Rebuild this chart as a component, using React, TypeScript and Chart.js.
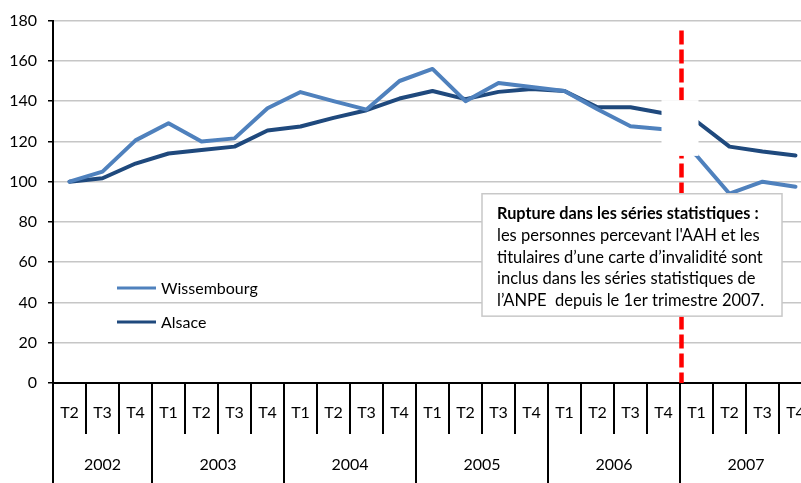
import React, { useEffect, useRef } from "react";
import { Chart, registerables } from "chart.js";

Chart.register(...registerables);

const quarters = [
  "T2", "T3", "T4",
  "T1", "T2", "T3", "T4",
  "T1", "T2", "T3", "T4",
  "T1", "T2", "T3", "T4",
  "T1", "T2", "T3", "T4",
  "T1", "T2", "T3", "T4",
];
const years = ["2002", "2003", "2004", "2005", "2006", "2007"];
const yearSpans = [3, 4, 4, 4, 4, 4];

const wissembourg = [
  100, 105, 120.5, 129, 120, 121.5, 136.5, 144.5, 140, 135.8, 150, 156, 140,
  149, 147, 145, 136, 127.5, 126, 113, 94, 100, 97.5,
];
const alsace = [
  100, 101.7, 109, 114, 115.7, 117.4, 125.4, 127.4, 131.7, 135.5, 141.3, 145,
  141, 144.6, 146, 145, 137, 137, 134, 130, 117.4, 115, 113,
];

const seriesNames = ["Wissembourg", "Alsace"];
const seriesColors = ["#4F81BD", "#1F497D"];

const breakIndex = 19; // first quarter of the new statistical series (2007 T1)

const noteTitle = "Rupture dans les séries statistiques :";
const noteLines = [
  "les personnes percevant l'AAH et les",
  "titulaires d’une carte d’invalidité sont",
  "inclus dans les séries statistiques de",
  "l’ANPE  depuis le 1er trimestre 2007.",
];

const FONT = "Lato";

const decorPlugin = {
  id: "decor",
  afterDatasetsDraw(chart: any) {
    const ctx = chart.ctx;
    const xs = chart.scales.x;
    const ys = chart.scales.y;
    const area = chart.chartArea;
    const w = xs.getPixelForValue(1) - xs.getPixelForValue(0);
    const boundary = (i: number) => xs.getPixelForValue(i) - w / 2;

    // red dashed break line
    const bx = boundary(breakIndex) + 1.5;
    ctx.save();
    ctx.strokeStyle = "#FF0000";
    ctx.lineWidth = 4.5;
    ctx.setLineDash([14, 5]);
    ctx.beginPath();
    ctx.moveTo(bx, area.top + 10);
    ctx.lineTo(bx, area.bottom);
    ctx.stroke();
    ctx.restore();

    // white patch over the break
    ctx.save();
    ctx.fillStyle = "#FFFFFF";
    const py1 = ys.getPixelForValue(140.5);
    const py2 = ys.getPixelForValue(112.8);
    ctx.fillRect(bx - 20, py1, 37, py2 - py1);
    ctx.restore();

    // annotation box
    const left = boundary(13);
    const right = left + 300;
    const top = ys.getPixelForValue(94);
    const bottom = ys.getPixelForValue(33.2);
    ctx.save();
    ctx.fillStyle = "#FFFFFF";
    ctx.fillRect(left, top, right - left, bottom - top);
    ctx.strokeStyle = "#C8C8C8";
    ctx.lineWidth = 1.5;
    ctx.strokeRect(left, top, right - left, bottom - top);
    ctx.fillStyle = "#000";
    ctx.textAlign = "left";
    ctx.textBaseline = "middle";
    ctx.font = `bold 16.3px ${FONT}`;
    const tx = left + 15;
    let ty = top + 20;
    ctx.fillText(noteTitle, tx, ty);
    ctx.font = `16.5px ${FONT}`;
    for (const line of noteLines) {
      ty += 21.8;
      ctx.fillText(line, tx, ty);
    }
    ctx.restore();

    // legend
    ctx.save();
    ctx.font = `16px ${FONT}`;
    ctx.textAlign = "left";
    ctx.textBaseline = "middle";
    const legY = [288, 322];
    seriesNames.forEach((name, i) => {
      ctx.strokeStyle = seriesColors[i];
      ctx.lineWidth = 3;
      ctx.beginPath();
      ctx.moveTo(117, legY[i]);
      ctx.lineTo(156, legY[i]);
      ctx.stroke();
      ctx.fillStyle = "#000";
      ctx.fillText(name, 161, legY[i] + 1);
    });
    ctx.restore();
  },
  afterDraw(chart: any) {
    const ctx = chart.ctx;
    const xs = chart.scales.x;
    const area = chart.chartArea;
    const w = xs.getPixelForValue(1) - xs.getPixelForValue(0);
    const boundary = (i: number) => xs.getPixelForValue(i) - w / 2;
    const bottom = area.bottom;
    const H = chart.height;

    ctx.save();
    ctx.strokeStyle = "#000";
    ctx.lineWidth = 2;
    ctx.fillStyle = "#000";
    ctx.font = `16px ${FONT}`;
    ctx.textAlign = "center";
    ctx.textBaseline = "middle";

    // quarter separators and labels
    for (let i = 0; i <= quarters.length; i++) {
      const x = Math.round(boundary(i));
      ctx.beginPath();
      ctx.moveTo(x, bottom);
      ctx.lineTo(x, bottom + 51);
      ctx.stroke();
    }
    quarters.forEach((q, i) => {
      ctx.fillText(q, xs.getPixelForValue(i), bottom + 30);
    });

    // year separators and labels
    let start = 0;
    years.forEach((y, k) => {
      const end = start + yearSpans[k];
      const x0 = boundary(start);
      const x1 = boundary(end);
      ctx.beginPath();
      ctx.moveTo(Math.round(x0), bottom + 51);
      ctx.lineTo(Math.round(x0), H);
      ctx.stroke();
      ctx.fillText(y, (x0 + x1) / 2, bottom + 82);
      start = end;
    });
    const xe = Math.round(boundary(quarters.length));
    ctx.beginPath();
    ctx.moveTo(xe, bottom + 51);
    ctx.lineTo(xe, H);
    ctx.stroke();
    ctx.restore();
  },
};

export default function App() {
  const ref = useRef<HTMLCanvasElement | null>(null);

  useEffect(() => {
    if (!ref.current) return;
    Chart.defaults.font.family = FONT;
    const chart = new Chart(ref.current, {
      type: "line",
      data: {
        labels: quarters,
        datasets: [
          {
            label: seriesNames[0],
            data: wissembourg,
            borderColor: seriesColors[0],
            backgroundColor: seriesColors[0],
            borderWidth: 4,
            pointRadius: 0,
            tension: 0,
            borderJoinStyle: "round",
            borderCapStyle: "round",
          },
          {
            label: seriesNames[1],
            data: alsace,
            borderColor: seriesColors[1],
            backgroundColor: seriesColors[1],
            borderWidth: 4,
            pointRadius: 0,
            tension: 0,
            borderJoinStyle: "round",
            borderCapStyle: "round",
          },
        ],
      },
      options: {
        animation: false,
        responsive: false,
        maintainAspectRatio: false,
        devicePixelRatio: 1,
        layout: { padding: { top: 19, left: 0, right: 0, bottom: 0 } },
        plugins: {
          legend: { display: false },
          tooltip: { enabled: false },
        },
        scales: {
          x: {
            type: "category",
            offset: true,
            ticks: { display: false },
            grid: { display: false, offset: true },
            border: { display: true, color: "#000", width: 2 },
            afterFit: (s: any) => {
              s.height = 100;
            },
          },
          y: {
            min: 0,
            max: 180,
            ticks: {
              stepSize: 20,
              color: "#000",
              padding: 11,
              font: { size: 16, family: FONT },
            },
            grid: {
              color: "#C6C6C6",
              lineWidth: 1.5,
              drawTicks: true,
              tickLength: 5,
              tickColor: "#000",
              tickWidth: 1.5,
            },
            border: { display: true, color: "#000", width: 2 },
            afterFit: (s: any) => {
              s.width = 53;
            },
          },
        },
      },
      plugins: [decorPlugin],
    });
    return () => chart.destroy();
  }, []);

  return (
    <div
      style={{
        position: "fixed",
        left: 0,
        top: 0,
        width: 801,
        height: 483,
        overflow: "hidden",
        background: "#fff",
      }}
    >
      <canvas
        ref={ref}
        width={812}
        height={483}
        style={{ width: 812, height: 483, display: "block" }}
      />
    </div>
  );
}
